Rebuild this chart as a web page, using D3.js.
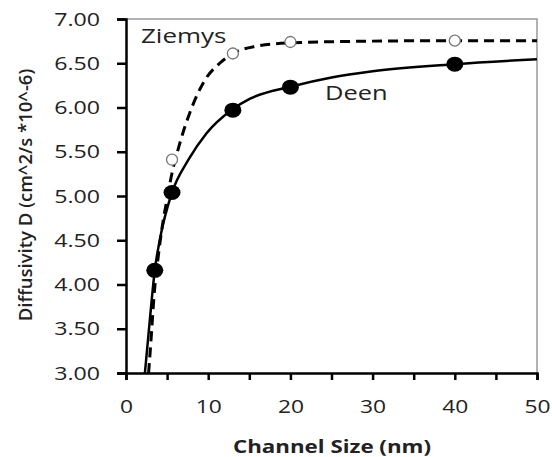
<!DOCTYPE html>
<html>
<head>
<meta charset="utf-8">
<script src="https://cdn.jsdelivr.net/npm/d3@7"></script>
<style>
  body { margin: 0; background: #fff; }
  text { font-family: "Open Sans", sans-serif; fill: #222; }
</style>
</head>
<body>
<svg id="chart"></svg>
<script>
// marker values
const deenX = [3.5, 5.6, 13, 20, 40];
const deenY = [4.16, 5.04, 5.97, 6.23, 6.49];
const ziemysX = [5.6, 13, 20, 40];
const ziemysY = [5.41, 6.61, 6.74, 6.755];

// fitted curves, sampled by eye
const deenCurveX = [2.3, 2.9, 3.5, 4.1, 5.6, 7.6, 9.8, 12.8, 15.1, 20, 25, 30, 40, 50];
const deenCurveY = [3.0, 3.6, 4.16, 4.5, 5.04, 5.41, 5.71, 5.97, 6.10, 6.235, 6.34, 6.41, 6.49, 6.545];
const ziemysCurveX = [2.75, 3.1, 3.4, 3.9, 4.4, 5.0, 5.6, 6.5, 7.8, 9.6, 11.4, 13, 15.7, 20, 30, 40, 50];
const ziemysCurveY = [3.0, 3.45, 3.86, 4.3, 4.65, 4.97, 5.26, 5.58, 5.95, 6.31, 6.5, 6.61, 6.69, 6.73, 6.75, 6.755, 6.755];

const yTicks = [3.0, 3.5, 4.0, 4.5, 5.0, 5.5, 6.0, 6.5, 7.0];
const xTicks = [0, 5, 10, 15, 20, 25, 30, 35, 40, 45, 50];

const width = 552, height = 457;
const margin = {left: 126, top: 19, right: 15, bottom: 84};

// the original text is a bit wider than the font, so stretch it sideways
function stretch(sel, sx) {
    sel.each(function() {
        const t = d3.select(this);
        const px = +t.attr("x") || 0;
        t.attr("x", px / sx).attr("transform", `scale(${sx},1)`);
    });
}

const svg = d3.select("#chart")
    .attr("width", width)
    .attr("height", height);

const x = d3.scaleLinear().domain([0, 50]).range([margin.left, width - margin.right]);
const y = d3.scaleLinear().domain([3, 7]).range([height - margin.bottom, margin.top]);

// top and right frame
svg.append("path")
    .attr("d", `M${x(0)},${y(7)}H${x(50)}V${y(3)}`)
    .attr("fill", "none")
    .attr("stroke", "#999")
    .attr("stroke-width", 1.5);

// y axis
const yAxis = svg.append("g")
    .attr("transform", `translate(${x(0)},0)`)
    .call(d3.axisLeft(y).tickValues(yTicks).tickFormat(d3.format(".2f")).tickSize(9).tickPadding(17));
yAxis.select(".domain").attr("stroke", "#000").attr("stroke-width", 2.5);
yAxis.selectAll(".tick line").attr("stroke", "#000").attr("stroke-width", 2.5);
yAxis.selectAll(".tick text")
    .style("font-family", "Open Sans")
    .attr("font-size", 19)
    .attr("fill", "#222")
    .call(stretch, 1.22);

// x axis
const xAxis = svg.append("g")
    .attr("transform", `translate(0,${y(3)})`)
    .call(d3.axisBottom(x).tickValues(xTicks)
        .tickFormat(d => d % 10 === 0 ? d : "").tickSize(7).tickPadding(20));
xAxis.select(".domain").attr("stroke", "#000").attr("stroke-width", 2.5);
xAxis.selectAll(".tick line").attr("stroke", "#000").attr("stroke-width", 2.5);
xAxis.selectAll(".tick text")
    .style("font-family", "Open Sans")
    .attr("font-size", 19)
    .attr("fill", "#222")
    .call(stretch, 1.2);

// axis titles
svg.append("g")
    .attr("transform", "translate(332,453)")
    .append("text")
    .attr("text-anchor", "middle")
    .attr("font-size", 18)
    .attr("font-weight", "bold")
    .text("Channel Size (nm)")
    .call(stretch, 1.24);

svg.append("text")
    .attr("transform", "translate(32,195) rotate(-90)")
    .attr("text-anchor", "middle")
    .attr("font-size", 18.5)
    .attr("font-weight", 600)
    .text("Diffusivity D (cm^2/s *10^-6)");

const line = d3.line()
    .x(d => x(d[0]))
    .y(d => y(d[1]))
    .curve(d3.curveMonotoneX);

// curves
svg.append("path")
    .datum(d3.zip(ziemysCurveX, ziemysCurveY))
    .attr("d", line)
    .attr("fill", "none")
    .attr("stroke", "#000")
    .attr("stroke-width", 3)
    .attr("stroke-dasharray", "10,6");

svg.append("path")
    .datum(d3.zip(deenCurveX, deenCurveY))
    .attr("d", line)
    .attr("fill", "none")
    .attr("stroke", "#000")
    .attr("stroke-width", 2.5);

// markers
svg.append("g")
    .selectAll("circle")
    .data(d3.zip(ziemysX, ziemysY))
    .enter().append("circle")
    .attr("cx", d => x(d[0]))
    .attr("cy", d => y(d[1]))
    .attr("r", 5.5)
    .attr("fill", "#fff")
    .attr("stroke", "#777")
    .attr("stroke-width", 1.3);

svg.append("g")
    .selectAll("ellipse")
    .data(d3.zip(deenX, deenY))
    .enter().append("ellipse")
    .attr("cx", d => x(d[0]))
    .attr("cy", d => y(d[1]))
    .attr("rx", 8.5)
    .attr("ry", 7.5)
    .attr("fill", "#000");

// series labels
svg.append("g")
    .attr("transform", "translate(141,43)")
    .append("text")
    .attr("font-size", 20)
    .text("Ziemys")
    .call(stretch, 1.3);

svg.append("g")
    .attr("transform", "translate(325,100)")
    .append("text")
    .attr("font-size", 20)
    .text("Deen")
    .call(stretch, 1.27);
</script>
</body>
</html>
